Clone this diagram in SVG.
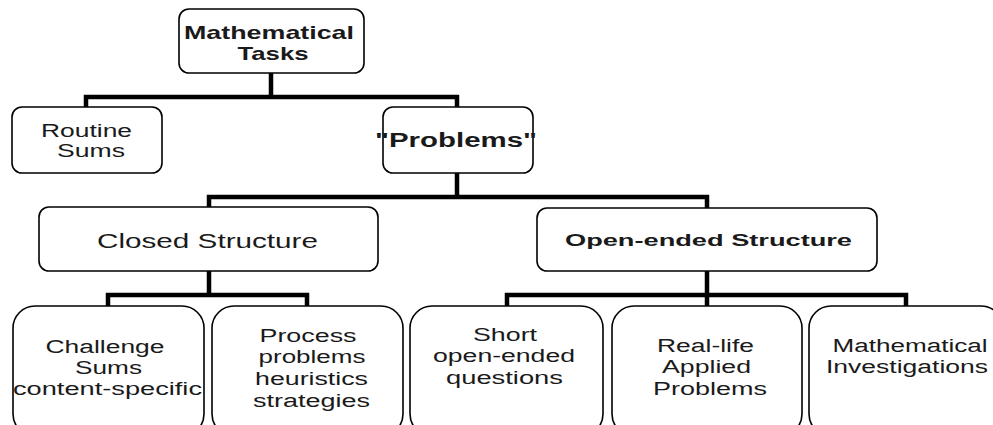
<svg xmlns="http://www.w3.org/2000/svg" width="993" height="425" viewBox="0 0 993 425">
<style>
.box{fill:#fff;stroke:#000;stroke-width:1.6}
.conn{fill:none;stroke:#000;stroke-width:4.5;stroke-linejoin:miter;stroke-linecap:square}
text{font-family:"Liberation Sans",Arial,sans-serif;fill:#1a1a1a;text-anchor:middle}
.r{font-size:18px}
.b{font-weight:bold}
</style>
<rect width="993" height="425" fill="#fff"/>
<g id="connectors">
<path class="conn" d="M271 74V97M86 106V97H457V106"/>
<path class="conn" d="M457 174V197M209 206V197H707V207"/>
<path class="conn" d="M209 272V295M108 305V295H307V305"/>
<path class="conn" d="M707 272V295M507 305V295H906V305M707 295V305"/>
</g>
<g id="n-tasks">
<rect class="box" x="179" y="9" width="185" height="64" rx="10"/>
<text class="b" x="269" y="39" font-size="19" textLength="170" lengthAdjust="spacingAndGlyphs">Mathematical</text>
<text class="b" x="273" y="60" font-size="19" textLength="71" lengthAdjust="spacingAndGlyphs">Tasks</text>
</g>
<g id="n-routine">
<rect class="box" x="12" y="107" width="150" height="66" rx="10"/>
<text class="r" x="86.5" y="137" textLength="91" lengthAdjust="spacingAndGlyphs">Routine</text>
<text class="r" x="91" y="157" textLength="68" lengthAdjust="spacingAndGlyphs">Sums</text>
</g>
<g id="n-problems">
<rect class="box" x="383" y="107" width="150" height="66" rx="10"/>
<text class="b" x="456" y="147" font-size="20" textLength="162" lengthAdjust="spacingAndGlyphs">"Problems"</text>
</g>
<g id="n-closed">
<rect class="box" x="39" y="207" width="339" height="64" rx="10"/>
<text x="207.5" y="248" font-size="20" textLength="221" lengthAdjust="spacingAndGlyphs">Closed Structure</text>
</g>
<g id="n-open">
<rect class="box" x="537" y="208" width="340" height="63" rx="10"/>
<text class="b" x="708.5" y="246" font-size="17" textLength="287" lengthAdjust="spacingAndGlyphs">Open-ended Structure</text>
</g>
<g id="n-challenge">
<rect class="box" x="13" y="306" width="191" height="130" rx="22"/>
<text class="r" x="105" y="353" textLength="119" lengthAdjust="spacingAndGlyphs">Challenge</text>
<text class="r" x="108.5" y="374" textLength="67" lengthAdjust="spacingAndGlyphs">Sums</text>
<text class="r" x="107.5" y="395" textLength="189" lengthAdjust="spacingAndGlyphs">content-specific</text>
</g>
<g id="n-process">
<rect class="box" x="212" y="306" width="191" height="130" rx="22"/>
<text class="r" x="308" y="342" textLength="97" lengthAdjust="spacingAndGlyphs">Process</text>
<text class="r" x="312" y="363" textLength="107" lengthAdjust="spacingAndGlyphs">problems</text>
<text class="r" x="311.5" y="385" textLength="113" lengthAdjust="spacingAndGlyphs">heuristics</text>
<text class="r" x="311.5" y="407" textLength="117" lengthAdjust="spacingAndGlyphs">strategies</text>
</g>
<g id="n-short">
<rect class="box" x="410" y="306" width="193" height="130" rx="22"/>
<text class="r" x="505" y="341" textLength="64" lengthAdjust="spacingAndGlyphs">Short</text>
<text class="r" x="504" y="362" textLength="142" lengthAdjust="spacingAndGlyphs">open-ended</text>
<text class="r" x="504.5" y="384" textLength="117" lengthAdjust="spacingAndGlyphs">questions</text>
</g>
<g id="n-reallife">
<rect class="box" x="612" y="306" width="190" height="130" rx="22"/>
<text class="r" x="705.5" y="352" textLength="97" lengthAdjust="spacingAndGlyphs">Real-life</text>
<text class="r" x="706.5" y="373" textLength="89" lengthAdjust="spacingAndGlyphs">Applied</text>
<text class="r" x="710" y="395" textLength="114" lengthAdjust="spacingAndGlyphs">Problems</text>
</g>
<g id="n-investigations">
<rect class="box" x="809" y="306" width="194" height="130" rx="22"/>
<text class="r" x="910" y="352" textLength="155" lengthAdjust="spacingAndGlyphs">Mathematical</text>
<text class="r" x="907" y="373" textLength="162" lengthAdjust="spacingAndGlyphs">Investigations</text>
</g>
</svg>
